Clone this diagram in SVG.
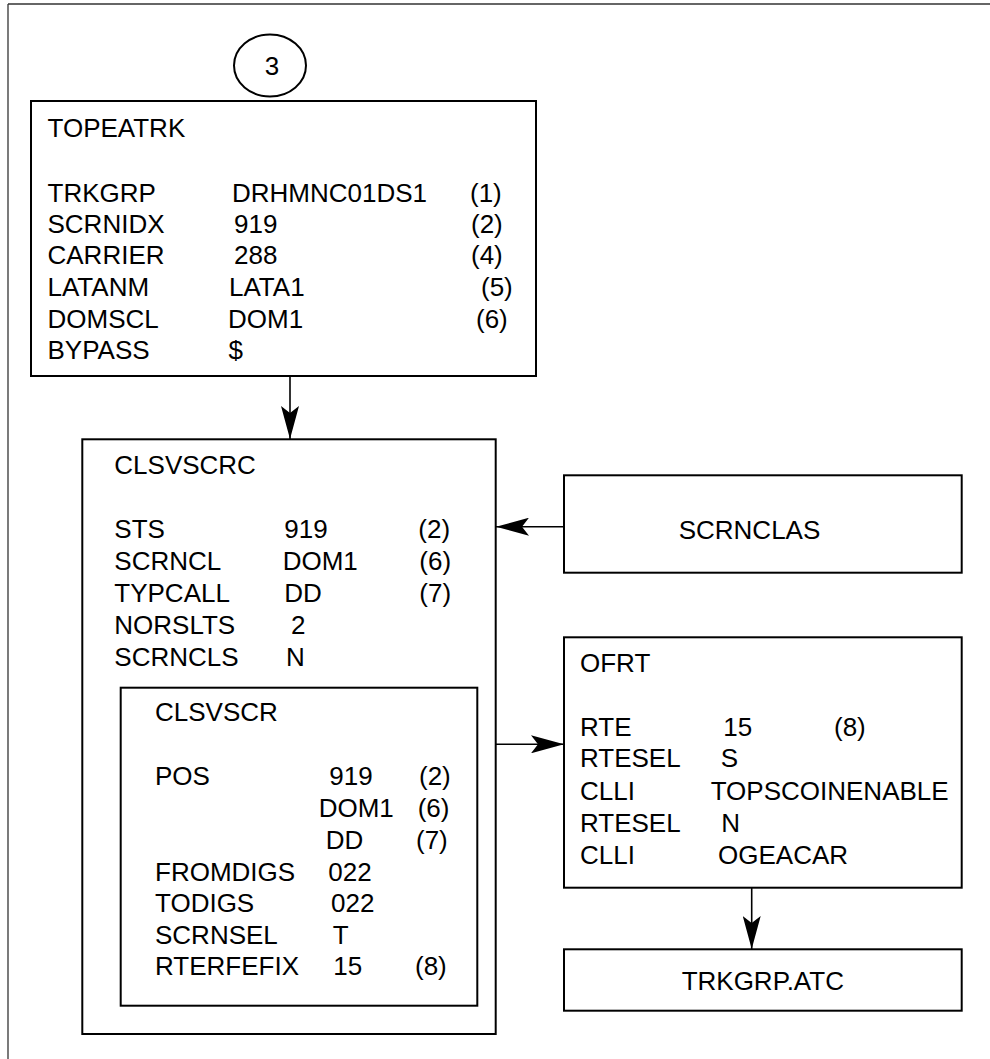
<svg xmlns="http://www.w3.org/2000/svg" width="990" height="1059" viewBox="0 0 990 1059">
<style>
.bg{fill:#ffffff}
.frame{stroke:#333333;stroke-width:1.3;fill:none}
.box{fill:#ffffff;stroke:#000000;stroke-width:2}
.t{font-family:"Liberation Sans",Arial,sans-serif;font-size:26px;fill:#000000}
.c{text-anchor:middle}
.conn{stroke:#000000;stroke-width:1.6;fill:none}
</style>
<defs>
<marker id="arr" viewBox="0 0 33 18" refX="33" refY="9" markerWidth="33" markerHeight="18" markerUnits="userSpaceOnUse" orient="auto">
<path d="M0,0 L33,9 L0,18 L7,9 Z" fill="#000000"/>
</marker>
</defs>
<rect class="bg" x="0" y="0" width="990" height="1059"/>
<g id="frame">
<line class="frame" x1="8" y1="4" x2="990" y2="4"/>
<line class="frame" x1="8" y1="4" x2="8" y2="1059"/>
</g>
<g id="connectors">
<line class="conn" x1="290" y1="376" x2="290" y2="439" marker-end="url(#arr)"/>
<line class="conn" x1="564" y1="526.7" x2="496" y2="526.7" marker-end="url(#arr)"/>
<line class="conn" x1="496" y1="744.3" x2="564" y2="744.3" marker-end="url(#arr)"/>
<line class="conn" x1="751.7" y1="888" x2="751.7" y2="949" marker-end="url(#arr)"/>
</g>
<g id="node-3">
<ellipse class="box" cx="270" cy="65.5" rx="36" ry="31"/>
<text class="t c" x="272" y="75">3</text>
</g>
<g id="node-topeatrk">
<rect class="box" x="31" y="101" width="505" height="275"/>
<text class="t" x="47.5" y="136.7">TOPEATRK</text>
<text class="t" x="47.5" y="201.7">TRKGRP</text>
<text class="t" x="232" y="201.7">DRHMNC01DS1</text>
<text class="t" x="470" y="201.7">(1)</text>
<text class="t" x="47.5" y="232.7">SCRNIDX</text>
<text class="t" x="234" y="232.7">919</text>
<text class="t" x="471" y="232.7">(2)</text>
<text class="t" x="47.5" y="264.3">CARRIER</text>
<text class="t" x="234" y="264.3">288</text>
<text class="t" x="471" y="264.3">(4)</text>
<text class="t" x="47.5" y="296">LATANM</text>
<text class="t" x="229" y="296">LATA1</text>
<text class="t" x="481" y="296">(5)</text>
<text class="t" x="47.5" y="327.7">DOMSCL</text>
<text class="t" x="228" y="327.7">DOM1</text>
<text class="t" x="476" y="327.7">(6)</text>
<text class="t" x="47.5" y="359.3">BYPASS</text>
<text class="t" x="228.6" y="359.3">$</text>
</g>
<g id="node-clsvscrc">
<rect class="box" x="82.3" y="439.3" width="413.4" height="594.7"/>
<text class="t" x="114.3" y="474.3">CLSVSCRC</text>
<text class="t" x="114.3" y="538.3">STS</text>
<text class="t" x="284.3" y="538.3">919</text>
<text class="t" x="418.3" y="538.3">(2)</text>
<text class="t" x="114.3" y="570">SCRNCL</text>
<text class="t" x="282.7" y="570">DOM1</text>
<text class="t" x="419.3" y="570">(6)</text>
<text class="t" x="114.3" y="602">TYPCALL</text>
<text class="t" x="284.3" y="602">DD</text>
<text class="t" x="419.3" y="602">(7)</text>
<text class="t" x="114.3" y="634">NORSLTS</text>
<text class="t" x="291" y="634">2</text>
<text class="t" x="114.3" y="665.7">SCRNCLS</text>
<text class="t" x="286" y="665.7">N</text>
</g>
<g id="node-clsvscr">
<rect class="box" x="120.7" y="687.7" width="356.6" height="318"/>
<text class="t" x="155" y="721">CLSVSCR</text>
<text class="t" x="155" y="785">POS</text>
<text class="t" x="329.3" y="785">919</text>
<text class="t" x="419" y="785">(2)</text>
<text class="t" x="318.7" y="816.7">DOM1</text>
<text class="t" x="417.7" y="816.7">(6)</text>
<text class="t" x="325.7" y="848.7">DD</text>
<text class="t" x="416" y="848.7">(7)</text>
<text class="t" x="155" y="880.7">FROMDIGS</text>
<text class="t" x="328.3" y="880.7">022</text>
<text class="t" x="155" y="912">TODIGS</text>
<text class="t" x="331" y="912">022</text>
<text class="t" x="155" y="943.7">SCRNSEL</text>
<text class="t" x="332.7" y="943.7">T</text>
<text class="t" x="155" y="975.3">RTERFEFIX</text>
<text class="t" x="333.3" y="975.3">15</text>
<text class="t" x="415" y="975.3">(8)</text>
</g>
<g id="node-scrnclas">
<rect class="box" x="564" y="475.3" width="397.7" height="97.4"/>
<text class="t c" x="749.5" y="539">SCRNCLAS</text>
</g>
<g id="node-ofrt">
<rect class="box" x="564" y="637.3" width="397.7" height="250.4"/>
<text class="t" x="580" y="671.7">OFRT</text>
<text class="t" x="580" y="736">RTE</text>
<text class="t" x="723.3" y="736">15</text>
<text class="t" x="834" y="736">(8)</text>
<text class="t" x="580" y="767.3">RTESEL</text>
<text class="t" x="720.7" y="767.3">S</text>
<text class="t" x="580" y="800">CLLI</text>
<text class="t" x="710.7" y="800">TOPSCOINENABLE</text>
<text class="t" x="580" y="831.7">RTESEL</text>
<text class="t" x="721.3" y="831.7">N</text>
<text class="t" x="580" y="864">CLLI</text>
<text class="t" x="718" y="864">OGEACAR</text>
</g>
<g id="node-trkgrp-atc">
<rect class="box" x="564" y="949.3" width="397.7" height="61.4"/>
<text class="t c" x="762.8" y="990">TRKGRP.ATC</text>
</g>
</svg>
